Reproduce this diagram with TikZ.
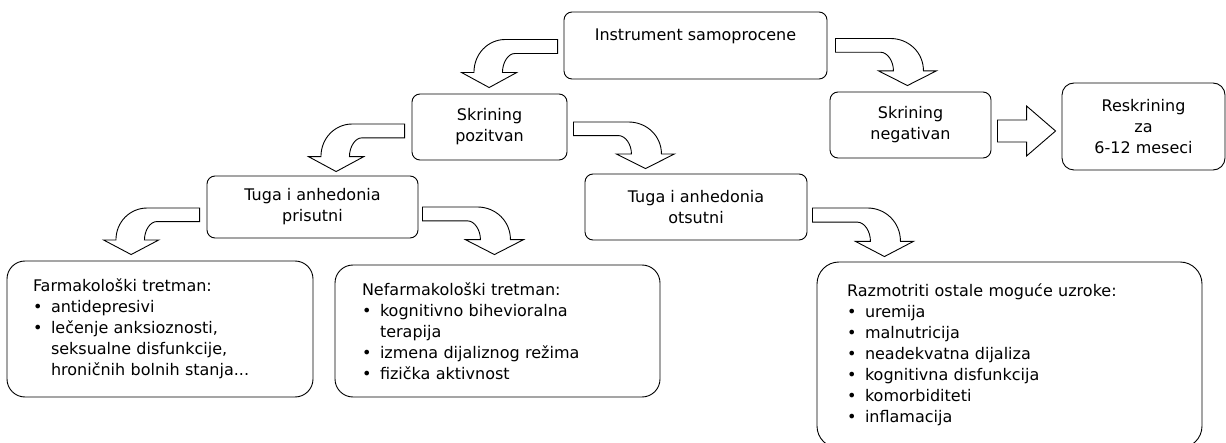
\documentclass[tikz,border=0pt]{standalone}
\usepackage{fontspec}
\setmainfont{DejaVu Sans}
\usetikzlibrary{calc}
\tikzset{
  box/.style={draw, line width=0.9pt, rounded corners=8pt, align=center, inner sep=0pt,
    font=\fontsize{16}{21}\selectfont},
  listbox/.style={box, rounded corners=18pt, align=left},
  blockarrow/.style={draw, line width=0.9pt, fill=white},
}
\newcommand{\itm}{\makebox[18pt][l]{\textbullet}}
\newcommand{\cnt}{\hspace*{18pt}}
\newcommand{\bentarrow}[3]{%
  \draw[blockarrow] let \p1 = #1, \p2 = #2, \n1 = {#3}, \n2 = {(\y1-\y2)/48pt} in
    (\x1,\y1) -- ({\x1+\n1*55pt},\y1)
    .. controls ({\x1+\n1*73pt},\y1) and ({\x1+\n1*88pt},{\y1-\n2*14pt}) .. ({\x1+\n1*88pt},{\y1-\n2*33pt})
    -- ({\x1+\n1*101pt},{\y1-\n2*33pt}) -- ({\x1+\n1*72pt},{\y1-\n2*48pt})
    -- ({\x1+\n1*43pt},{\y1-\n2*33pt}) -- ({\x1+\n1*58pt},{\y1-\n2*33pt})
    .. controls ({\x1+\n1*58pt},{\y1-\n2*23pt}) and ({\x1+\n1*52pt},{\y1-\n2*14pt}) .. ({\x1+\n1*45pt},{\y1-\n2*14pt})
    -- (\x1,{\y1-\n2*14pt}) -- cycle;}
\newcommand{\blockarrow}[2]{%
  \draw[blockarrow] let \p1 = #1, \p2 = #2 in
    (\x1,{\y1+11pt}) -- ({\x2-29pt},{\y1+11pt}) -- ({\x2-29pt},{\y1+25pt}) -- (\x2,\y1)
    -- ({\x2-29pt},{\y1-25pt}) -- ({\x2-29pt},{\y1-11pt}) -- (\x1,{\y1-11pt}) -- cycle;}
\begin{document}
\begin{tikzpicture}[x=1pt, y=-1pt]
  \useasboundingbox (0,0) rectangle (1226,443);

  \node[box, minimum width=263pt, minimum height=67pt] (instr) at (695.5,45.5) {Instrument samoprocene\\ \mbox{}};
  \node[box, minimum width=155pt, minimum height=66pt] (pozitvan) at (489.5,127) {Skrining\\ pozitvan};
  \node[box, minimum width=161pt, minimum height=66pt] (neg) at (910.5,125) {Skrining\\ negativan};
  \node[box, minimum width=163pt, minimum height=87pt, rounded corners=12pt] (resk) at (1143.5,126.5) {Reskrining\\ za\\ 6-12 meseci};
  \node[box, minimum width=211pt, minimum height=62pt] (prisutni) at (312.5,207) {Tuga i anhedonia\\ prisutni};
  \node[box, minimum width=222pt, minimum height=66pt] (otsutni) at (696,207) {Tuga i anhedonia\\ otsutni};

  \node[listbox, text width=254pt, inner xsep=26pt, minimum height=136pt] (farm) at (160,329) {Farmakološki tretman:\\
    \itm antidepresivi\\
    \itm lečenje anksioznosti,\\
    \cnt seksualne disfunkcije,\\
    \cnt hroničnih bolnih stanja...};
  \node[listbox, text width=271pt, inner xsep=27pt, minimum height=132pt] (nefarm) at (497.5,331) {Nefarmakološki tretman:\\
    \itm kognitivno bihevioralna\\
    \cnt terapija\\
    \itm izmena dijaliznog režima\\
    \itm fizička aktivnost};
  \node[listbox, text width=325pt, inner xsep=30pt, minimum height=186pt, rounded corners=22pt] (razm) at (1009.5,355) {Razmotriti ostale moguće uzroke:\\
    \itm uremija\\
    \itm malnutricija\\
    \itm neadekvatna dijaliza\\
    \itm kognitivna disfunkcija\\
    \itm komorbiditeti\\
    \itm inflamacija};

  \bentarrow{($(instr.west)+(-6,-6)$)}{($(pozitvan.north)+(0,-6)$)}{-0.95}
  \bentarrow{($(instr.east)+(8,-7)$)}{($(neg.north)+(0,-6)$)}{1}
  \bentarrow{($(pozitvan.west)+(-7,-3)$)}{($(prisutni.north)+(0,-4)$)}{-0.95}
  \bentarrow{($(pozitvan.east)+(6,-5)$)}{($(otsutni.north)+(0,-5)$)}{1}
  \bentarrow{($(prisutni.west)+(-7,1)$)}{($(farm.north)+(0,-6)$)}{-0.95}
  \bentarrow{($(prisutni.east)+(4,0)$)}{($(nefarm.north)+(0,-10)$)}{1}
  \bentarrow{($(otsutni.east)+(5,1)$)}{($(razm.north)+(0,-5)$)}{1}
  \blockarrow{($(neg.east)+(6,6)$)}{($(resk.west)+(-6,6)$)}
\end{tikzpicture}
\end{document}
